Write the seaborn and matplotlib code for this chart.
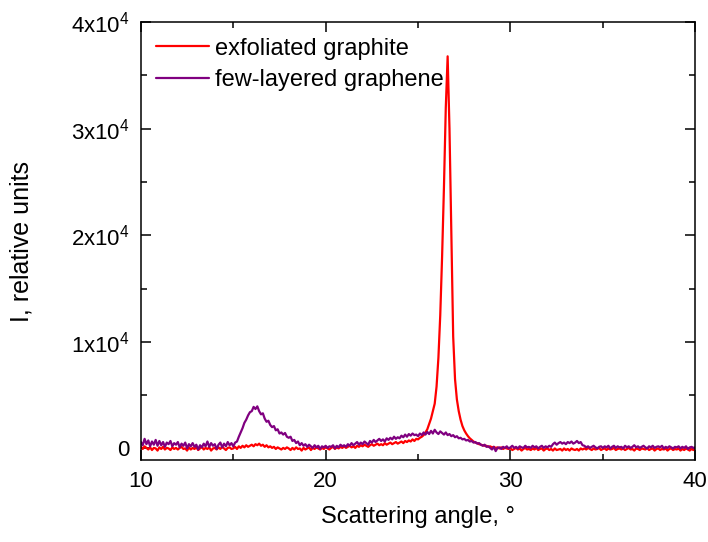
import numpy as np
import pandas as pd
import seaborn as sns
import matplotlib
matplotlib.use("Agg")
import matplotlib.pyplot as plt
from matplotlib.ticker import MultipleLocator, FuncFormatter

# scattering angle, 0.1 degree steps from 10 to 40
angle = np.round(np.arange(10.0, 40.05, 0.1), 1)

graphite = [
    150, -50, 200, 50, -100, 100, -150, 50, 0, -200,
    100, -50, 150, -100, 50, 0, -150, 100, -50, 50,
    -100, 50, 150, -50, 0, -200, 100, -100, 50, -50,
    100, -150, 0, 150, -100, 50, -50, 100, -200, 0,
    50, -100, 100, -50, 150, 0, -150, 50, 100, -50,
    0, 150, -50, 200, 50, 250, 100, 300, 150, 250,
    350, 200, 400, 300, 450, 250, 350, 150, 300, 100,
    200, 50, 150, -50, 100, 0, -100, 50, -50, 100,
    0, -150, 50, -100, 100, -50, 0, -200, 50, -100,
    0, 100, -150, 50, -50, 100, 0, -100, 50, -50,
    100, 0, -100, 50, 150, -50, 100, 0, 150, 50,
    200, 50, 150, 250, 100, 200, 50, 250, 150, 300,
    200, 350, 250, 150, 300, 400, 250, 350, 450, 300,
    400, 300, 500, 350, 450, 550, 400, 500, 600, 450,
    550, 650, 500, 700, 600, 750, 650, 850, 700, 900,
    850, 1000, 1100, 1250, 1500, 1800, 2300, 2800, 3500, 4200,
    5800, 8500, 12500, 18000, 24500, 32000, 36800, 30000, 20000, 10500,
    6500, 4600, 3500, 2700, 2100, 1700, 1400, 1150, 950, 800,
    650, 550, 500, 400, 350, 300, 250, 250, 150, 200,
    100, 150, 50, 100, 0, 100, -50, 50, 0, -50,
    0, -150, -50, 50, -100, 0, -200, -50, 50, -100,
    -50, -150, 0, -100, 50, -150, -50, 0, -200, -50,
    0, -150, -50, -200, 0, -150, -100, -50, -200, 0,
    -150, -50, -200, 0, -100, -150, -50, -200, 0, -100,
    0, -100, 50, -50, -150, 0, -100, -50, 50, -150,
    -50, 0, -150, 0, -100, -50, 50, -150, -50, 0,
    -100, 0, -150, -50, 50, -100, -50, -200, 0, -50,
    -150, 0, -50, -100, 50, -150, -50, 0, -200, -50,
    0, -150, -50, -100, 0, -200, -50, 0, -150, -50,
    -100, 0, -200, -50, -150, 0, -100, -200, -50, -150,
    -50,
]

graphene = [
    600, 300, 900, 400, 750, 200, 650, 350, 800, 250,
    700, 300, 600, 150, 550, 400, 700, 200, 500, 350,
    600, 100, 450, 250, 550, 0, 400, 200, 500, 150,
    350, -100, 300, 100, 450, 200, 650, 150, 500, 250,
    400, -50, 350, 550, 100, 450, 200, 600, 300, 500,
    200, 550, 650, 1100, 1500, 1900, 2400, 2700, 3100, 3400,
    3500, 3900, 3700, 3950, 3500, 3200, 3300, 2800, 2500, 2600,
    2200, 2000, 2100, 1700, 1800, 1400, 1500, 1300, 1450, 1100,
    1000, 1100, 700, 800, 500, 650, 300, 500, 250, 400,
    150, 350, 200, 50, 300, 100, 250, -50, 200, 100,
    250, 50, 200, 150, 300, 0, 250, 100, 350, 200,
    300, 150, 400, 250, 500, 300, 450, 600, 350, 550,
    400, 650, 500, 350, 700, 550, 800, 600, 750, 900,
    700, 850, 650, 950, 800, 1000, 850, 1100, 900, 1050,
    950, 1200, 1050, 1300, 1100, 1350, 1200, 1400, 1250, 1300,
    1150, 1400, 1250, 1500, 1300, 1550, 1350, 1650, 1400, 1750,
    1500, 1350, 1600, 1450, 1300, 1500, 1250, 1350, 1150, 1250,
    1050, 1150, 950, 1000, 850, 900, 750, 800, 650, 700,
    550, 600, 450, 500, 350, 250, 350, 150, 200, 50,
    -100, 150, -250, 50, 100, -50, 150, 50, 200, 0,
    100, 250, 50, 150, 0, 200, 100, 50, 250, 100,
    150, 50, 250, 100, 200, 0, 150, 250, 50, 200,
    100, 250, 150, 400, 550, 350, 500, 600, 450, 550,
    400, 600, 500, 650, 450, 550, 700, 500, 600, 300,
    250, 100, 200, 50, 150, 250, 100, 0, 150, 200,
    50, 200, 100, 250, 0, 150, 250, 50, 200, 100,
    150, 0, 250, 100, 200, 50, 150, 300, 100, 200,
    50, 150, 250, 100, 0, 200, 100, 250, 50, 150,
    200, 100, 250, 0, 150, 50, 200, 100, 0, 150,
    100, 200, 0, 150, 50, 200, -50, 100, 150, 50,
    100,
]

series_names = ["exfoliated graphite", "few-layered graphene"]
series_colors = ["#ff0000", "#800080"]

df = pd.DataFrame({"angle": angle,
                   series_names[0]: graphite,
                   series_names[1]: graphene})
long_df = df.melt(id_vars="angle", var_name="sample", value_name="I")

sns.set_theme(style="ticks")
plt.rcParams["font.family"] = ["Liberation Sans", "DejaVu Sans"]
plt.rcParams["mathtext.fontset"] = "custom"
plt.rcParams["mathtext.rm"] = "Liberation Sans"
plt.rcParams["mathtext.it"] = "Liberation Sans:italic"
plt.rcParams["mathtext.default"] = "regular"
plt.rcParams["text.color"] = "black"
plt.rcParams["axes.labelcolor"] = "black"

fig = plt.figure(figsize=(7.08, 5.42), dpi=100)
ax = fig.add_axes([0.199, 0.151, 0.783, 0.808])

sns.lineplot(data=long_df, x="angle", y="I", hue="sample",
             palette=series_colors, linewidth=1.6, ax=ax, estimator=None)

ax.set_xlim(10, 40)
ax.set_ylim(-1100, 40000)
ax.xaxis.set_major_locator(MultipleLocator(10))
ax.xaxis.set_minor_locator(MultipleLocator(5))
ax.yaxis.set_major_locator(MultipleLocator(10000))
ax.yaxis.set_minor_locator(MultipleLocator(5000))


def y_fmt(v, pos):
    n = int(round(v / 10000))
    if n == 0:
        return "0"
    return "%dx10$^{4}$" % n


ax.yaxis.set_major_formatter(FuncFormatter(y_fmt))
ax.tick_params(which="both", direction="in", top=True, right=True,
               width=1.1, labelsize=16, colors="black")
ax.tick_params(which="major", length=7, pad=8)
ax.tick_params(which="minor", length=4)
for s in ax.spines.values():
    s.set_linewidth(1.1)
    s.set_color("black")

ax.set_xlabel("Scattering angle, °", fontsize=17, labelpad=10)
ax.set_ylabel("I, relative units", fontsize=18, labelpad=27)

leg = ax.legend(loc="upper left", frameon=False, fontsize=17,
                handlelength=2.25, handletextpad=0.25, borderaxespad=0.25,
                labelspacing=0.4)
for line in leg.get_lines():
    line.set_linewidth(1.6)

fig.savefig("out.png", dpi=100)
